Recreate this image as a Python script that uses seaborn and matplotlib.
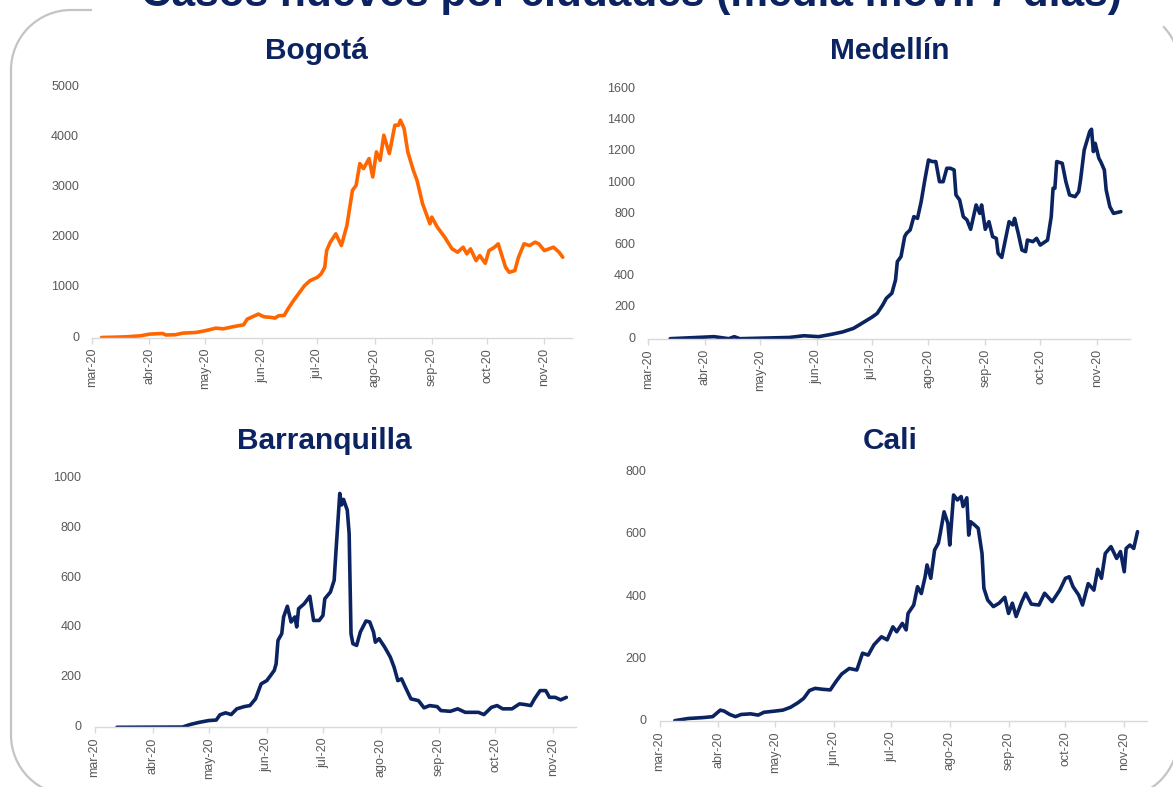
import matplotlib
matplotlib.use("Agg")
import matplotlib.pyplot as plt
import matplotlib.patches as mpatches
from matplotlib.lines import Line2D
from matplotlib.transforms import IdentityTransform
import pandas as pd
import seaborn as sns

# ---------------------------------------------------------------- data
TITLE = "Casos nuevos por ciudades (media móvil 7 días)"
CITIES = ["Bogotá", "Medellín", "Barranquilla", "Cali"]

month_ticks = ["2020-03-01", "2020-04-01", "2020-05-01", "2020-06-01", "2020-07-01",
               "2020-08-01", "2020-09-01", "2020-10-01", "2020-11-01"]
month_labels = ["mar-20", "abr-20", "may-20", "jun-20", "jul-20",
                "ago-20", "sep-20", "oct-20", "nov-20"]

bogota_dates = ["03-06", "03-12", "03-19", "03-27", "04-01", "04-08", "04-10", "04-15", "04-19",
                "04-26", "05-01", "05-07", "05-11", "05-16", "05-22", "05-24", "05-28", "05-30",
                "06-02", "06-06", "06-08", "06-10", "06-13", "06-15", "06-18", "06-22", "06-24",
                "06-27", "07-01", "07-03", "07-05", "07-06", "07-08", "07-11", "07-14", "07-17",
                "07-20", "07-22", "07-24", "07-26", "07-29", "07-31", "08-02", "08-04", "08-06",
                "08-09", "08-12", "08-14", "08-15", "08-17", "08-19", "08-22", "08-24", "08-27",
                "08-29", "08-31", "09-01", "09-04", "09-08", "09-12", "09-15", "09-18", "09-20",
                "09-22", "09-25", "09-27", "09-30", "10-02", "10-05", "10-07", "10-09", "10-11",
                "10-13", "10-16", "10-18", "10-21", "10-24", "10-27", "10-29", "11-01", "11-06",
                "11-09", "11-11"]
bogota_vals = [0, 5, 13, 33, 67, 80, 50, 55, 87,
               100, 133, 187, 173, 213, 253, 367, 433, 467,
               413, 400, 387, 433, 440, 567, 733, 933, 1033,
               1133, 1200, 1267, 1400, 1733, 1900, 2067, 1833, 2233,
               2933, 3033, 3467, 3367, 3567, 3200, 3700, 3533, 4033,
               3667, 4233, 4233, 4333, 4167, 3700, 3333, 3133, 2667,
               2467, 2267, 2400, 2200, 2000, 1767, 1700, 1800, 1667,
               1767, 1533, 1633, 1480, 1733, 1800, 1867, 1633, 1400,
               1300, 1333, 1600, 1867, 1833, 1900, 1867, 1733, 1800,
               1700, 1600]

medellin_dates = ["03-13", "04-06", "04-14", "04-17", "04-20", "05-17", "05-25", "06-02", "06-09",
                  "06-15", "06-21", "06-25", "07-01", "07-04", "07-07", "07-09", "07-12", "07-14",
                  "07-15", "07-17", "07-19", "07-20", "07-22", "07-24", "07-26", "07-28", "07-30",
                  "08-01", "08-03", "08-05", "08-07", "08-09", "08-11", "08-13", "08-15", "08-16",
                  "08-18", "08-20", "08-22", "08-24", "08-27", "08-29", "08-30", "09-01", "09-03",
                  "09-05", "09-07", "09-08", "09-10", "09-14", "09-16", "09-17", "09-19", "09-21",
                  "09-23", "09-24", "09-27", "09-29", "10-01", "10-05", "10-07", "10-08", "10-09",
                  "10-10", "10-13", "10-15", "10-17", "10-20", "10-22", "10-23", "10-25", "10-28",
                  "10-29", "10-30", "10-31", "11-02", "11-03", "11-05", "11-06", "11-08", "11-10",
                  "11-14"]
medellin_vals = [0, 13, 0, 13, 0, 8, 19, 13, 28,
                 43, 66, 94, 137, 162, 216, 259, 291, 376,
                 494, 526, 654, 675, 697, 782, 771, 878, 1017,
                 1145, 1135, 1135, 1006, 1006, 1092, 1092, 1081, 921,
                 889, 782, 761, 701, 857, 803, 857, 701, 750,
                 654, 643, 547, 521, 750, 729, 771, 675, 568,
                 558, 632, 622, 643, 600, 632, 782, 964, 964,
                 1135, 1124, 1006, 921, 910, 942, 1017, 1209, 1327,
                 1342, 1199, 1252, 1156, 1135, 1081, 953, 846, 803,
                 814]

barranquilla_dates = ["03-13", "04-17", "04-21", "04-26", "05-01", "05-05", "05-07", "05-10", "05-13",
                      "05-16", "05-20", "05-23", "05-26", "05-29", "06-01", "06-03", "06-05", "06-06",
                      "06-07", "06-09", "06-10", "06-12", "06-14", "06-16", "06-17", "06-18", "06-21",
                      "06-24", "06-26", "06-29", "07-01", "07-02", "07-05", "07-07", "07-08", "07-10",
                      "07-11", "07-12", "07-14", "07-15", "07-16", "07-17", "07-19", "07-21", "07-24",
                      "07-26", "07-28", "07-29", "07-31", "08-03", "08-06", "08-08", "08-10", "08-12",
                      "08-14", "08-17", "08-21", "08-24", "08-27", "08-31", "09-02", "09-07", "09-11",
                      "09-15", "09-22", "09-25", "09-29", "10-02", "10-05", "10-10", "10-14", "10-17",
                      "10-20", "10-22", "10-25", "10-28", "10-30", "11-02", "11-05", "11-08"]
barranquilla_vals = [0, 1, 11, 20, 27, 29, 50, 58, 51,
                     74, 83, 87, 114, 174, 187, 207, 228, 254,
                     348, 375, 442, 485, 422, 442, 402, 475, 495,
                     525, 428, 428, 448, 515, 542, 589, 709, 937,
                     891, 913, 870, 776, 375, 335, 328, 382, 426,
                     422, 382, 341, 355, 321, 281, 241, 187, 194,
                     161, 114, 107, 78, 87, 83, 67, 64, 74,
                     60, 60, 51, 80, 87, 74, 74, 94, 91,
                     87, 114, 147, 147, 120, 120, 110, 120]

cali_dates = ["03-09", "03-16", "03-24", "03-29", "04-02", "04-04", "04-07", "04-10", "04-13",
              "04-18", "04-22", "04-25", "05-01", "05-05", "05-09", "05-13", "05-16", "05-19",
              "05-22", "05-26", "05-30", "06-02", "06-05", "06-09", "06-13", "06-16", "06-19",
              "06-22", "06-26", "06-29", "07-02", "07-04", "07-07", "07-09", "07-10", "07-13",
              "07-15", "07-17", "07-19", "07-20", "07-22", "07-24", "07-26", "07-27", "07-29",
              "07-31", "08-01", "08-03", "08-05", "08-07", "08-08", "08-10", "08-11", "08-12",
              "08-14", "08-16", "08-18", "08-19", "08-21", "08-24", "08-27", "08-30", "09-01",
              "09-03", "09-05", "09-08", "09-10", "09-13", "09-17", "09-20", "09-24", "09-28",
              "10-01", "10-03", "10-05", "10-08", "10-10", "10-13", "10-16", "10-18", "10-20",
              "10-22", "10-25", "10-28", "10-30", "11-01", "11-02", "11-04", "11-06", "11-08"]
cali_vals = [1, 8, 11, 14, 35, 32, 21, 14, 21,
             23, 19, 28, 32, 35, 44, 59, 73, 98,
             105, 102, 100, 127, 151, 169, 164, 218, 212,
             245, 271, 261, 303, 287, 314, 293, 346, 373,
             432, 410, 464, 502, 459, 550, 572, 604, 673,
             636, 566, 727, 711, 722, 690, 718, 598, 641,
             631, 620, 539, 427, 389, 368, 379, 398, 346,
             379, 336, 384, 411, 376, 373, 411, 384, 421,
             459, 464, 432, 405, 373, 442, 421, 488, 459,
             539, 561, 523, 545, 480, 555, 566, 555, 609]

y_ticks = {
    "Bogotá": [0, 1000, 2000, 3000, 4000, 5000],
    "Medellín": [0, 200, 400, 600, 800, 1000, 1200, 1400, 1600],
    "Barranquilla": [0, 200, 400, 600, 800, 1000],
    "Cali": [0, 200, 400, 600, 800],
}
x_end = {"Bogotá": "2020-11-16", "Medellín": "2020-11-19",
         "Barranquilla": "2020-11-13", "Cali": "2020-11-13"}

# ---------------------------------------------------------------- style
sns.set_theme(style="white")
plt.rcParams["font.family"] = ["Liberation Sans", "DejaVu Sans"]

NAVY = "#0B2461"
ORANGE = "#FF6600"
GREY_TXT = "#595959"
GREY_AX = "#D9D9D9"
GREY_FRAME = "#C4C4C4"

W, H = 1173, 787
fig = plt.figure(figsize=(W / 100, H / 100), dpi=100)
fig.patch.set_facecolor("white")

# rounded slide frame, built from pixel-space pieces (y measured from the top)
px = IdentityTransform()
R = 60
frame_kw = dict(color=GREY_FRAME, linewidth=1.6, zorder=0)


def arc(cx, cy_top, t1, t2):
    fig.add_artist(mpatches.Arc((cx, H - cy_top), 2 * R, 2 * R, theta1=t1, theta2=t2,
                                transform=px, **frame_kw))


def seg(xs, ys_top):
    fig.add_artist(Line2D(xs, [H - y for y in ys_top], transform=px,
                          solid_capstyle="butt", **frame_kw))


arc(71, 70, 90, 180)           # top-left corner
seg([71, 92], [10, 10])        # short top edge before the title
seg([11, 11], [70, 735])       # left edge
arc(71, 735, 180, 270)         # bottom-left corner
arc(1120, 68, 0, 44)           # top-right corner, runs off the canvas
arc(1118, 738, 270, 360)       # bottom-right corner

fig.text(631 / W, 1 - 6 / H, TITLE, ha="center", va="baseline", fontsize=30.5,
         fontweight="bold", color=NAVY, zorder=2)

series = {
    "Bogotá": (bogota_dates, bogota_vals, ORANGE),
    "Medellín": (medellin_dates, medellin_vals, NAVY),
    "Barranquilla": (barranquilla_dates, barranquilla_vals, NAVY),
    "Cali": (cali_dates, cali_vals, NAVY),
}

# panel boxes in pixels: left, right, y of zero, y of top tick; title centre and baseline
boxes = {
    "Bogotá": (92.3, 572, 337.5, 86.7, 316, 59),
    "Medellín": (648.2, 1130, 338.7, 89, 890, 59),
    "Barranquilla": (94.5, 575.7, 727.3, 477.7, 324, 449),
    "Cali": (659.6, 1147, 721, 472.3, 890, 449),
}

ticks_dt = pd.to_datetime(month_ticks)

for city in CITIES:
    dates, vals, color = series[city]
    left, right, y0, y1, tx, ty = boxes[city]
    ax = fig.add_axes([left / W, 1 - y0 / H, (right - left) / W, (y0 - y1) / H])
    df = pd.DataFrame({"fecha": pd.to_datetime(["2020-" + d for d in dates]),
                       "casos": vals})
    sns.lineplot(data=df, x="fecha", y="casos", ax=ax, color=color,
                 linewidth=2.6, solid_joinstyle="round", solid_capstyle="round")
    yt = y_ticks[city]
    ax.set_ylim(yt[0], yt[-1])
    ax.set_xlim(pd.Timestamp("2020-03-01"), pd.Timestamp(x_end[city]))
    ax.set_yticks(yt)
    ax.set_yticklabels([str(v) for v in yt])
    ax.set_xticks(ticks_dt)
    ax.set_xticklabels(month_labels)
    ax.set_xlabel("")
    ax.set_ylabel("")
    for side in ("top", "right", "left"):
        ax.spines[side].set_visible(False)
    ax.spines["bottom"].set_color(GREY_AX)
    ax.spines["bottom"].set_linewidth(1.0)
    ax.tick_params(axis="x", bottom=True, length=4, width=1.0, color=GREY_AX,
                   pad=3.5, labelsize=9, labelcolor=GREY_TXT, labelrotation=90)
    ax.tick_params(axis="y", left=False, length=0, pad=9.5, labelsize=9,
                   labelcolor=GREY_TXT)
    ax.patch.set_alpha(0)
    ax.grid(False)
    for lbl in ax.get_yticklabels():
        lbl.set_verticalalignment("center")
    fig.text(tx / W, 1 - ty / H, city, ha="center", va="baseline", fontsize=21.5,
             fontweight="bold", color=NAVY)

fig.savefig("out.png", dpi=100, facecolor="white")
